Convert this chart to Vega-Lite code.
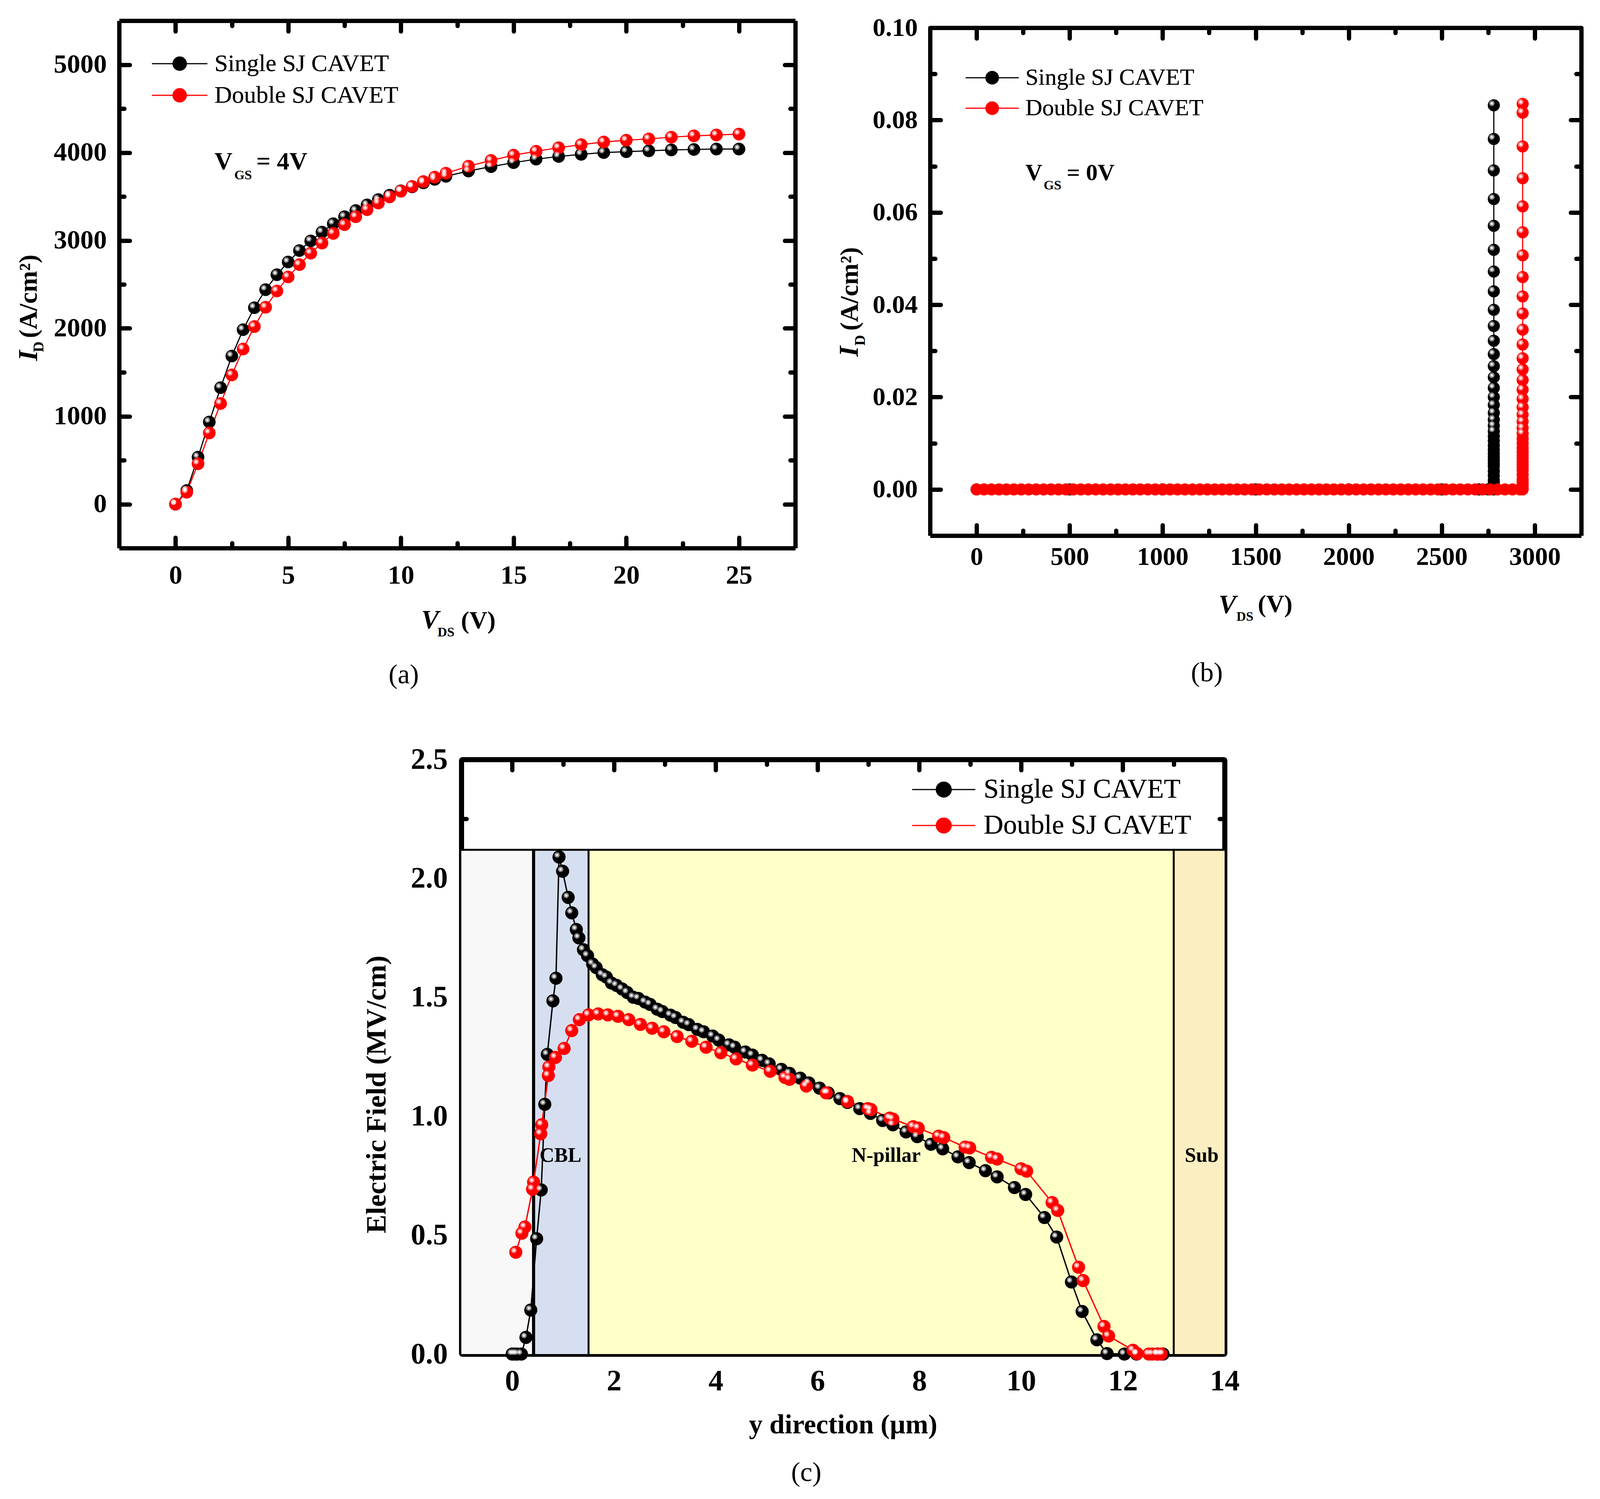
{"$schema":"https://vega.github.io/schema/vega-lite/v6.json","background":"white","padding":{"left":39,"top":38,"right":10,"bottom":10},"config":{"font":"Liberation Serif","view":{"stroke":null},"axis":{"grid":false,"domainColor":"black","domainWidth":11,"tickColor":"black","tickCap":"round","labelColor":"black","labelFontWeight":"bold","titleColor":"black","titleFontWeight":"bold","zindex":1,"labelOverlap":false,"labelFlush":false},"title":{"color":"black"},"legend":{"labelColor":"black","orient":"none","padding":0,"symbolStrokeWidth":3,"labelLimit":1000}},
"datasets":{
"a":[{"x":0,"y":0,"s":"Single"},{"x":0.5,"y":155,"s":"Single"},{"x":1,"y":535,"s":"Single"},{"x":1.5,"y":935,"s":"Single"},{"x":2,"y":1325,"s":"Single"},{"x":2.5,"y":1685,"s":"Single"},{"x":3,"y":1985,"s":"Single"},{"x":3.5,"y":2235,"s":"Single"},{"x":4,"y":2440,"s":"Single"},{"x":4.5,"y":2610,"s":"Single"},{"x":5,"y":2755,"s":"Single"},{"x":5.5,"y":2885,"s":"Single"},{"x":6,"y":2995,"s":"Single"},{"x":6.5,"y":3095,"s":"Single"},{"x":7,"y":3190,"s":"Single"},{"x":7.5,"y":3270,"s":"Single"},{"x":8,"y":3340,"s":"Single"},{"x":8.5,"y":3405,"s":"Single"},{"x":9,"y":3465,"s":"Single"},{"x":9.5,"y":3515,"s":"Single"},{"x":10,"y":3565,"s":"Single"},{"x":10.5,"y":3610,"s":"Single"},{"x":11,"y":3655,"s":"Single"},{"x":11.5,"y":3695,"s":"Single"},{"x":12,"y":3730,"s":"Single"},{"x":13,"y":3790,"s":"Single"},{"x":14,"y":3840,"s":"Single"},{"x":15,"y":3885,"s":"Single"},{"x":16,"y":3925,"s":"Single"},{"x":17,"y":3955,"s":"Single"},{"x":18,"y":3980,"s":"Single"},{"x":19,"y":4000,"s":"Single"},{"x":20,"y":4010,"s":"Single"},{"x":21,"y":4020,"s":"Single"},{"x":22,"y":4030,"s":"Single"},{"x":23,"y":4035,"s":"Single"},{"x":24,"y":4040,"s":"Single"},{"x":25,"y":4040,"s":"Single"},
{"x":0,"y":0,"s":"Double"},{"x":0.5,"y":135,"s":"Double"},{"x":1,"y":460,"s":"Double"},{"x":1.5,"y":810,"s":"Double"},{"x":2,"y":1145,"s":"Double"},{"x":2.5,"y":1470,"s":"Double"},{"x":3,"y":1765,"s":"Double"},{"x":3.5,"y":2020,"s":"Double"},{"x":4,"y":2240,"s":"Double"},{"x":4.5,"y":2425,"s":"Double"},{"x":5,"y":2585,"s":"Double"},{"x":5.5,"y":2725,"s":"Double"},{"x":6,"y":2855,"s":"Double"},{"x":6.5,"y":2970,"s":"Double"},{"x":7,"y":3080,"s":"Double"},{"x":7.5,"y":3180,"s":"Double"},{"x":8,"y":3270,"s":"Double"},{"x":8.5,"y":3350,"s":"Double"},{"x":9,"y":3425,"s":"Double"},{"x":9.5,"y":3495,"s":"Double"},{"x":10,"y":3560,"s":"Double"},{"x":10.5,"y":3615,"s":"Double"},{"x":11,"y":3670,"s":"Double"},{"x":11.5,"y":3720,"s":"Double"},{"x":12,"y":3765,"s":"Double"},{"x":13,"y":3845,"s":"Double"},{"x":14,"y":3910,"s":"Double"},{"x":15,"y":3970,"s":"Double"},{"x":16,"y":4015,"s":"Double"},{"x":17,"y":4055,"s":"Double"},{"x":18,"y":4090,"s":"Double"},{"x":19,"y":4120,"s":"Double"},{"x":20,"y":4140,"s":"Double"},{"x":21,"y":4155,"s":"Double"},{"x":22,"y":4175,"s":"Double"},{"x":23,"y":4190,"s":"Double"},{"x":24,"y":4200,"s":"Double"},{"x":25,"y":4210,"s":"Double"}],
"b":[{"x":0,"y":0,"s":"Single"},{"x":500,"y":0,"s":"Single"},{"x":1000,"y":0,"s":"Single"},{"x":1500,"y":0,"s":"Single"},{"x":2000,"y":0,"s":"Single"},{"x":2500,"y":0,"s":"Single"},{"x":2700,"y":0,"s":"Single"},{"x":2750,"y":0,"s":"Single"},
{"x":2780,"y":0,"s":"Single"},{"x":2780,"y":0.0005,"s":"Single"},{"x":2780,"y":0.001,"s":"Single"},{"x":2780,"y":0.0015,"s":"Single"},{"x":2780,"y":0.002,"s":"Single"},{"x":2780,"y":0.003,"s":"Single"},{"x":2780,"y":0.004,"s":"Single"},{"x":2780,"y":0.005,"s":"Single"},{"x":2780,"y":0.0056,"s":"Single"},{"x":2780,"y":0.0063,"s":"Single"},{"x":2780,"y":0.007,"s":"Single"},{"x":2780,"y":0.0078,"s":"Single"},{"x":2780,"y":0.0086,"s":"Single"},{"x":2780,"y":0.0095,"s":"Single"},{"x":2780,"y":0.0105,"s":"Single"},{"x":2780,"y":0.0115,"s":"Single"},{"x":2780,"y":0.0126,"s":"Single"},{"x":2780,"y":0.0138,"s":"Single"},{"x":2780,"y":0.0151,"s":"Single"},{"x":2780,"y":0.0166,"s":"Single"},{"x":2780,"y":0.0183,"s":"Single"},{"x":2780,"y":0.02,"s":"Single"},{"x":2780,"y":0.022,"s":"Single"},{"x":2780,"y":0.0243,"s":"Single"},{"x":2780,"y":0.0267,"s":"Single"},{"x":2780,"y":0.0293,"s":"Single"},{"x":2780,"y":0.0322,"s":"Single"},{"x":2780,"y":0.0354,"s":"Single"},{"x":2780,"y":0.0389,"s":"Single"},{"x":2780,"y":0.0429,"s":"Single"},{"x":2780,"y":0.0472,"s":"Single"},{"x":2780,"y":0.0519,"s":"Single"},{"x":2780,"y":0.0571,"s":"Single"},{"x":2780,"y":0.0629,"s":"Single"},{"x":2780,"y":0.0691,"s":"Single"},{"x":2780,"y":0.0759,"s":"Single"},{"x":2780,"y":0.0832,"s":"Single"},
{"x":0,"y":0,"s":"Double"},{"x":40,"y":0,"s":"Double"},{"x":80,"y":0,"s":"Double"},{"x":120,"y":0,"s":"Double"},{"x":160,"y":0,"s":"Double"},{"x":200,"y":0,"s":"Double"},{"x":240,"y":0,"s":"Double"},{"x":280,"y":0,"s":"Double"},{"x":320,"y":0,"s":"Double"},{"x":360,"y":0,"s":"Double"},{"x":400,"y":0,"s":"Double"},{"x":440,"y":0,"s":"Double"},{"x":480,"y":0,"s":"Double"},{"x":520,"y":0,"s":"Double"},{"x":560,"y":0,"s":"Double"},{"x":600,"y":0,"s":"Double"},{"x":640,"y":0,"s":"Double"},{"x":680,"y":0,"s":"Double"},{"x":720,"y":0,"s":"Double"},{"x":760,"y":0,"s":"Double"},{"x":800,"y":0,"s":"Double"},{"x":840,"y":0,"s":"Double"},{"x":880,"y":0,"s":"Double"},{"x":920,"y":0,"s":"Double"},{"x":960,"y":0,"s":"Double"},{"x":1000,"y":0,"s":"Double"},{"x":1040,"y":0,"s":"Double"},{"x":1080,"y":0,"s":"Double"},{"x":1120,"y":0,"s":"Double"},{"x":1160,"y":0,"s":"Double"},{"x":1200,"y":0,"s":"Double"},{"x":1240,"y":0,"s":"Double"},{"x":1280,"y":0,"s":"Double"},{"x":1320,"y":0,"s":"Double"},{"x":1360,"y":0,"s":"Double"},{"x":1400,"y":0,"s":"Double"},{"x":1440,"y":0,"s":"Double"},{"x":1480,"y":0,"s":"Double"},{"x":1520,"y":0,"s":"Double"},{"x":1560,"y":0,"s":"Double"},{"x":1600,"y":0,"s":"Double"},{"x":1640,"y":0,"s":"Double"},{"x":1680,"y":0,"s":"Double"},{"x":1720,"y":0,"s":"Double"},{"x":1760,"y":0,"s":"Double"},{"x":1800,"y":0,"s":"Double"},{"x":1840,"y":0,"s":"Double"},{"x":1880,"y":0,"s":"Double"},{"x":1920,"y":0,"s":"Double"},{"x":1960,"y":0,"s":"Double"},{"x":2000,"y":0,"s":"Double"},{"x":2040,"y":0,"s":"Double"},{"x":2080,"y":0,"s":"Double"},{"x":2120,"y":0,"s":"Double"},{"x":2160,"y":0,"s":"Double"},{"x":2200,"y":0,"s":"Double"},{"x":2240,"y":0,"s":"Double"},{"x":2280,"y":0,"s":"Double"},{"x":2320,"y":0,"s":"Double"},{"x":2360,"y":0,"s":"Double"},{"x":2400,"y":0,"s":"Double"},{"x":2440,"y":0,"s":"Double"},{"x":2480,"y":0,"s":"Double"},{"x":2520,"y":0,"s":"Double"},{"x":2560,"y":0,"s":"Double"},{"x":2600,"y":0,"s":"Double"},{"x":2640,"y":0,"s":"Double"},{"x":2680,"y":0,"s":"Double"},{"x":2720,"y":0,"s":"Double"},{"x":2760,"y":0,"s":"Double"},{"x":2800,"y":0,"s":"Double"},{"x":2840,"y":0,"s":"Double"},{"x":2880,"y":0,"s":"Double"},{"x":2920,"y":0,"s":"Double"},
{"x":2935,"y":0,"s":"Double"},{"x":2935,"y":0.0007,"s":"Double"},{"x":2935,"y":0.0012,"s":"Double"},{"x":2935,"y":0.0017,"s":"Double"},{"x":2935,"y":0.0022,"s":"Double"},{"x":2935,"y":0.0032,"s":"Double"},{"x":2935,"y":0.0042,"s":"Double"},{"x":2935,"y":0.0048,"s":"Double"},{"x":2935,"y":0.0054,"s":"Double"},{"x":2935,"y":0.006,"s":"Double"},{"x":2935,"y":0.0067,"s":"Double"},{"x":2935,"y":0.0074,"s":"Double"},{"x":2935,"y":0.0082,"s":"Double"},{"x":2935,"y":0.009,"s":"Double"},{"x":2935,"y":0.01,"s":"Double"},{"x":2935,"y":0.011,"s":"Double"},{"x":2935,"y":0.0121,"s":"Double"},{"x":2935,"y":0.0133,"s":"Double"},{"x":2935,"y":0.0147,"s":"Double"},{"x":2935,"y":0.0162,"s":"Double"},{"x":2935,"y":0.0178,"s":"Double"},{"x":2935,"y":0.0196,"s":"Double"},{"x":2935,"y":0.0216,"s":"Double"},{"x":2935,"y":0.0237,"s":"Double"},{"x":2935,"y":0.026,"s":"Double"},{"x":2935,"y":0.0284,"s":"Double"},{"x":2935,"y":0.0314,"s":"Double"},{"x":2935,"y":0.0346,"s":"Double"},{"x":2935,"y":0.0381,"s":"Double"},{"x":2935,"y":0.0418,"s":"Double"},{"x":2935,"y":0.046,"s":"Double"},{"x":2935,"y":0.0507,"s":"Double"},{"x":2935,"y":0.0557,"s":"Double"},{"x":2935,"y":0.0613,"s":"Double"},{"x":2935,"y":0.0674,"s":"Double"},{"x":2935,"y":0.0743,"s":"Double"},{"x":2935,"y":0.0816,"s":"Double"},{"x":2935,"y":0.0835,"s":"Double"}],
"c":[{"x":0,"y":0,"s":"Single"},{"x":0.05,"y":0,"s":"Single"},{"x":0.1,"y":0,"s":"Single"},{"x":0.18,"y":0,"s":"Single"},{"x":0.27,"y":0.07,"s":"Single"},{"x":0.365,"y":0.185,"s":"Single"},{"x":0.48,"y":0.485,"s":"Single"},{"x":0.57,"y":0.69,"s":"Single"},{"x":0.64,"y":1.05,"s":"Single"},{"x":0.69,"y":1.26,"s":"Single"},{"x":0.8,"y":1.485,"s":"Single"},{"x":0.86,"y":1.58,"s":"Single"},{"x":0.92,"y":2.09,"s":"Single"},{"x":0.99,"y":2.03,"s":"Single"},{"x":1.1,"y":1.92,"s":"Single"},{"x":1.17,"y":1.855,"s":"Single"},{"x":1.26,"y":1.785,"s":"Single"},{"x":1.31,"y":1.75,"s":"Single"},{"x":1.4,"y":1.7,"s":"Single"},{"x":1.48,"y":1.675,"s":"Single"},{"x":1.58,"y":1.64,"s":"Single"},{"x":1.65,"y":1.625,"s":"Single"},{"x":1.77,"y":1.595,"s":"Single"},{"x":1.85,"y":1.585,"s":"Single"},{"x":1.95,"y":1.56,"s":"Single"},{"x":2.05,"y":1.55,"s":"Single"},{"x":2.16,"y":1.535,"s":"Single"},{"x":2.26,"y":1.52,"s":"Single"},{"x":2.38,"y":1.5,"s":"Single"},{"x":2.48,"y":1.495,"s":"Single"},{"x":2.61,"y":1.48,"s":"Single"},{"x":2.71,"y":1.47,"s":"Single"},{"x":2.85,"y":1.45,"s":"Single"},{"x":2.95,"y":1.44,"s":"Single"},{"x":3.11,"y":1.425,"s":"Single"},{"x":3.21,"y":1.415,"s":"Single"},{"x":3.36,"y":1.395,"s":"Single"},{"x":3.47,"y":1.385,"s":"Single"},{"x":3.64,"y":1.365,"s":"Single"},{"x":3.76,"y":1.355,"s":"Single"},{"x":3.94,"y":1.337,"s":"Single"},{"x":4.06,"y":1.32,"s":"Single"},{"x":4.26,"y":1.3,"s":"Single"},{"x":4.37,"y":1.29,"s":"Single"},{"x":4.58,"y":1.27,"s":"Single"},{"x":4.72,"y":1.257,"s":"Single"},{"x":4.91,"y":1.235,"s":"Single"},{"x":5.05,"y":1.22,"s":"Single"},{"x":5.29,"y":1.197,"s":"Single"},{"x":5.45,"y":1.18,"s":"Single"},{"x":5.66,"y":1.16,"s":"Single"},{"x":5.83,"y":1.14,"s":"Single"},{"x":6.04,"y":1.118,"s":"Single"},{"x":6.21,"y":1.098,"s":"Single"},{"x":6.44,"y":1.074,"s":"Single"},{"x":6.59,"y":1.058,"s":"Single"},{"x":6.83,"y":1.032,"s":"Single"},{"x":7.04,"y":1.012,"s":"Single"},{"x":7.28,"y":0.982,"s":"Single"},{"x":7.48,"y":0.964,"s":"Single"},{"x":7.74,"y":0.934,"s":"Single"},{"x":7.96,"y":0.914,"s":"Single"},{"x":8.23,"y":0.882,"s":"Single"},{"x":8.46,"y":0.863,"s":"Single"},{"x":8.76,"y":0.829,"s":"Single"},{"x":8.98,"y":0.805,"s":"Single"},{"x":9.3,"y":0.771,"s":"Single"},{"x":9.53,"y":0.745,"s":"Single"},{"x":9.87,"y":0.7,"s":"Single"},{"x":10.09,"y":0.671,"s":"Single"},{"x":10.46,"y":0.574,"s":"Single"},{"x":10.7,"y":0.492,"s":"Single"},{"x":10.99,"y":0.303,"s":"Single"},{"x":11.2,"y":0.179,"s":"Single"},{"x":11.49,"y":0.06,"s":"Single"},{"x":11.69,"y":0.002,"s":"Single"},{"x":12.03,"y":0,"s":"Single"},{"x":12.27,"y":0,"s":"Single"},{"x":12.68,"y":0,"s":"Single"},{"x":12.79,"y":0,"s":"Single"},
{"x":0.07,"y":0.428,"s":"Double"},{"x":0.19,"y":0.508,"s":"Double"},{"x":0.25,"y":0.534,"s":"Double"},{"x":0.4,"y":0.693,"s":"Double"},{"x":0.42,"y":0.723,"s":"Double"},{"x":0.56,"y":0.926,"s":"Double"},{"x":0.58,"y":0.964,"s":"Double"},{"x":0.71,"y":1.171,"s":"Double"},{"x":0.72,"y":1.207,"s":"Double"},{"x":0.85,"y":1.247,"s":"Double"},{"x":1.02,"y":1.285,"s":"Double"},{"x":1.17,"y":1.36,"s":"Double"},{"x":1.32,"y":1.406,"s":"Double"},{"x":1.5,"y":1.426,"s":"Double"},{"x":1.69,"y":1.43,"s":"Double"},{"x":1.88,"y":1.426,"s":"Double"},{"x":2.08,"y":1.42,"s":"Double"},{"x":2.29,"y":1.406,"s":"Double"},{"x":2.52,"y":1.386,"s":"Double"},{"x":2.75,"y":1.37,"s":"Double"},{"x":2.98,"y":1.355,"s":"Double"},{"x":3.24,"y":1.335,"s":"Double"},{"x":3.53,"y":1.315,"s":"Double"},{"x":3.81,"y":1.29,"s":"Double"},{"x":4.1,"y":1.267,"s":"Double"},{"x":4.4,"y":1.241,"s":"Double"},{"x":4.72,"y":1.215,"s":"Double"},{"x":5.07,"y":1.189,"s":"Double"},{"x":5.36,"y":1.163,"s":"Double"},{"x":5.45,"y":1.155,"s":"Double"},{"x":5.78,"y":1.127,"s":"Double"},{"x":6.17,"y":1.098,"s":"Double"},{"x":6.59,"y":1.062,"s":"Double"},{"x":6.99,"y":1.032,"s":"Double"},{"x":7.05,"y":1.028,"s":"Double"},{"x":7.42,"y":0.992,"s":"Double"},{"x":7.48,"y":0.988,"s":"Double"},{"x":7.88,"y":0.956,"s":"Double"},{"x":7.98,"y":0.95,"s":"Double"},{"x":8.38,"y":0.916,"s":"Double"},{"x":8.48,"y":0.91,"s":"Double"},{"x":8.9,"y":0.87,"s":"Double"},{"x":8.99,"y":0.867,"s":"Double"},{"x":9.42,"y":0.827,"s":"Double"},{"x":9.53,"y":0.82,"s":"Double"},{"x":10,"y":0.779,"s":"Double"},{"x":10.11,"y":0.769,"s":"Double"},{"x":10.61,"y":0.637,"s":"Double"},{"x":10.72,"y":0.604,"s":"Double"},{"x":11.13,"y":0.365,"s":"Double"},{"x":11.22,"y":0.309,"s":"Double"},{"x":11.63,"y":0.116,"s":"Double"},{"x":11.72,"y":0.076,"s":"Double"},{"x":12.2,"y":0.016,"s":"Double"},{"x":12.28,"y":0.002,"s":"Double"},{"x":12.51,"y":0,"s":"Double"},{"x":12.58,"y":0,"s":"Double"},{"x":12.68,"y":0,"s":"Double"},{"x":12.75,"y":0,"s":"Double"}]},
"spacing":1891,"bounds":"flush","resolve":{"scale":{"fill":"independent","stroke":"independent","color":"independent"},"legend":{"fill":"independent","stroke":"independent"}},"vconcat":[
{"spacing":345,"bounds":"flush","resolve":{"scale":{"fill":"independent","stroke":"independent"},"legend":{"fill":"independent","stroke":"independent"}},"hconcat":[
{"width":1731,"height":1350,"title":{"text":"(a)","orient":"bottom","anchor":"middle","dx":-137,"offset":58,"fontSize":70,"fontWeight":"normal"},"resolve":{"axis":{"x":"independent","y":"independent"}},"layer":[
{"data":{"name":"a"},"mark":{"type":"line","strokeWidth":3},"encoding":{"x":{"field":"x","type":"quantitative","scale":{"domain":[-2.5,27.5],"nice":false,"zero":false},"axis":{"orient":"bottom","values":[0,5,10,15,20,25],"tickSize":-27,"tickWidth":11,"labelPadding":63,"labelFontSize":68,"format":"d","title":"(V)","titleFontSize":64,"titleX":919,"titleY":186,"titleBaseline":"middle","titleAlign":"center"}},"y":{"field":"y","type":"quantitative","scale":{"domain":[-500,5500],"nice":false,"zero":false},"axis":{"orient":"left","values":[0,1000,2000,3000,4000,5000],"tickSize":-27,"tickWidth":11,"labelPadding":59,"labelFontSize":68,"format":"d","title":"(A/cm²)","titleFontSize":66,"titleX":-232,"titleY":705,"titleAngle":270,"titleBaseline":"middle","titleAlign":"center"}},"stroke":{"field":"s","type":"nominal","title":null,"sort":["Single","Double"],"scale":{"range":["black","#ff0000"]},"legend":{"legendX":124,"legendY":79,"symbolType":"M-4.18,0L4.18,0M1,0A1,1,0,1,1,-1,0A1,1,0,1,1,1,0Z","symbolSize":1156,"labelFontSize":62,"labelOffset":58,"rowPadding":19,"labelExpr":"datum.label + ' SJ CAVET'"}}}},
{"data":{"name":"a"},"mark":{"type":"point","filled":true,"size":1050,"opacity":1,"strokeWidth":0},"encoding":{"x":{"field":"x","type":"quantitative","axis":{"orient":"bottom","values":[2.5,7.5,12.5,17.5,22.5],"tickSize":-13,"tickWidth":11,"labels":false,"domain":false,"title":null}},"y":{"field":"y","type":"quantitative","axis":{"orient":"left","values":[500,1500,2500,3500,4500],"tickSize":-13,"tickWidth":11,"labels":false,"domain":false,"title":null}},"fill":{"field":"s","type":"nominal","title":null,"sort":["Single","Double"],"scale":{"range":["black","#ff0000"]},"legend":{"legendX":124,"legendY":79,"symbolType":"M-4.18,0L4.18,0M1,0A1,1,0,1,1,-1,0A1,1,0,1,1,1,0Z","symbolSize":1156,"labelFontSize":62,"labelOffset":58,"rowPadding":19,"labelExpr":"datum.label + ' SJ CAVET'"}}}},
{"data":{"name":"a"},"mark":{"type":"point","filled":true,"size":200,"color":"white","opacity":0.5,"xOffset":-5,"yOffset":-5},"encoding":{"x":{"field":"x","type":"quantitative","axis":{"orient":"top","values":[0,5,10,15,20,25],"tickSize":-27,"tickWidth":11,"labels":false,"title":null}},"y":{"field":"y","type":"quantitative","axis":{"orient":"right","values":[0,1000,2000,3000,4000,5000],"tickSize":-27,"tickWidth":11,"labels":false,"title":null}}}},
{"data":{"name":"a"},"mark":{"type":"point","filled":true,"size":50,"color":"white","opacity":0.8,"xOffset":-5,"yOffset":-5},"encoding":{"x":{"field":"x","type":"quantitative","axis":null},"y":{"field":"y","type":"quantitative","axis":null}}},
{"data":{"values":[{"x":2.13,"y":3893,"t":"V"},{"x":4.72,"y":3893,"t":"= 4V"}]},"mark":{"type":"text","fontWeight":"bold","fontSize":64,"color":"black"},"encoding":{"text":{"field":"t"},"x":{"field":"x","type":"quantitative","axis":{"orient":"top","values":[2.5,7.5,12.5,17.5,22.5],"tickSize":-13,"tickWidth":11,"labels":false,"domain":false,"title":null}},"y":{"field":"y","type":"quantitative","axis":{"orient":"right","values":[500,1500,2500,3500,4500],"tickSize":-13,"tickWidth":11,"labels":false,"domain":false,"title":null}}}},
{"data":{"values":[{"x":3.0,"y":3740,"t":"GS"},{"x":12.0,"y":-1459,"t":"DS"}]},"mark":{"type":"text","fontWeight":"bold","fontSize":34,"color":"black"},"encoding":{"text":{"field":"t"},"x":{"field":"x","type":"quantitative","axis":null},"y":{"field":"y","type":"quantitative","axis":null}}},
{"data":{"values":[{"x":11.3,"y":-1321,"t":"V"}]},"mark":{"type":"text","fontWeight":"bold","fontStyle":"italic","fontSize":68,"color":"black"},"encoding":{"text":{"field":"t"},"x":{"field":"x","type":"quantitative","axis":null},"y":{"field":"y","type":"quantitative","axis":null}}},
{"data":{"values":[{"x":-6.5,"y":1691,"t":"I"}]},"mark":{"type":"text","fontWeight":"bold","fontStyle":"italic","fontSize":70,"angle":270,"color":"black"},"encoding":{"text":{"field":"t"},"x":{"field":"x","type":"quantitative","axis":null},"y":{"field":"y","type":"quantitative","axis":null}}},
{"data":{"values":[{"x":-6.05,"y":1790,"t":"D"}]},"mark":{"type":"text","fontWeight":"bold","fontSize":38,"angle":270,"color":"black"},"encoding":{"text":{"field":"t"},"x":{"field":"x","type":"quantitative","axis":null},"y":{"field":"y","type":"quantitative","axis":null}}}
]},
{"spacing":17,"bounds":"flush","resolve":{"scale":{"fill":"independent","stroke":"independent"},"legend":{"fill":"independent","stroke":"independent"}},"vconcat":[
{"width":1,"height":1,"data":{"values":[]},"mark":"point","encoding":{}},
{"width":1667,"height":1300,"title":{"text":"(b)","orient":"bottom","anchor":"middle","dx":-125,"offset":93,"fontSize":70,"fontWeight":"normal"},"resolve":{"axis":{"x":"independent","y":"independent"}},"layer":[
{"data":{"name":"b"},"mark":{"type":"line","strokeWidth":3},"encoding":{"x":{"field":"x","type":"quantitative","scale":{"domain":[-250,3250],"nice":false,"zero":false},"axis":{"orient":"bottom","values":[0,500,1000,1500,2000,2500,3000],"tickSize":-27,"tickWidth":11,"labelPadding":49,"labelFontSize":66,"format":"d","title":"(V)","titleFontSize":64,"titleX":883,"titleY":176,"titleBaseline":"middle","titleAlign":"center"}},"y":{"field":"y","type":"quantitative","scale":{"domain":[-0.01,0.1],"nice":false,"zero":false},"axis":{"orient":"left","values":[0,0.02,0.04,0.06,0.08,0.1],"tickSize":-27,"tickWidth":11,"labelPadding":59,"labelFontSize":66,"format":".2f","title":"(A/cm²)","titleFontSize":66,"titleX":-206,"titleY":668,"titleAngle":270,"titleBaseline":"middle","titleAlign":"center"}},"stroke":{"field":"s","type":"nominal","title":null,"sort":["Single","Double"],"scale":{"range":["black","#ff0000"]},"legend":{"legendX":129,"legendY":98,"symbolType":"M-4.26,0L4.26,0M1,0A1,1,0,1,1,-1,0A1,1,0,1,1,1,0Z","symbolSize":1024,"labelFontSize":60,"labelOffset":55,"rowPadding":18,"labelExpr":"datum.label + ' SJ CAVET'"}}}},
{"data":{"name":"b"},"mark":{"type":"point","filled":true,"size":960,"opacity":1,"strokeWidth":0},"encoding":{"x":{"field":"x","type":"quantitative","axis":{"orient":"bottom","values":[250,750,1250,1750,2250,2750],"tickSize":-13,"tickWidth":11,"labels":false,"domain":false,"title":null}},"y":{"field":"y","type":"quantitative","axis":{"orient":"left","values":[0.01,0.03,0.05,0.07,0.09],"tickSize":-13,"tickWidth":11,"labels":false,"domain":false,"title":null}},"fill":{"field":"s","type":"nominal","title":null,"sort":["Single","Double"],"scale":{"range":["black","#ff0000"]},"legend":{"legendX":129,"legendY":98,"symbolType":"M-4.26,0L4.26,0M1,0A1,1,0,1,1,-1,0A1,1,0,1,1,1,0Z","symbolSize":1024,"labelFontSize":60,"labelOffset":55,"rowPadding":18,"labelExpr":"datum.label + ' SJ CAVET'"}}}},
{"data":{"name":"b"},"transform":[{"filter":"datum.y >= 0.012"}],"mark":{"type":"point","filled":true,"size":200,"color":"white","opacity":0.5,"xOffset":-5,"yOffset":-5},"encoding":{"x":{"field":"x","type":"quantitative","axis":{"orient":"top","values":[0,500,1000,1500,2000,2500,3000],"tickSize":-27,"tickWidth":11,"labels":false,"title":null}},"y":{"field":"y","type":"quantitative","axis":{"orient":"right","values":[0,0.02,0.04,0.06,0.08,0.1],"tickSize":-27,"tickWidth":11,"labels":false,"title":null}}}},
{"data":{"name":"b"},"transform":[{"filter":"datum.y >= 0.012"}],"mark":{"type":"point","filled":true,"size":50,"color":"white","opacity":0.8,"xOffset":-5,"yOffset":-5},"encoding":{"x":{"field":"x","type":"quantitative","axis":null},"y":{"field":"y","type":"quantitative","axis":null}}},
{"data":{"values":[{"x":308,"y":0.0685,"t":"V"},{"x":613,"y":0.0685,"t":"= 0V"}]},"mark":{"type":"text","fontWeight":"bold","fontSize":60,"color":"black"},"encoding":{"text":{"field":"t"},"x":{"field":"x","type":"quantitative","axis":{"orient":"top","values":[250,750,1250,1750,2250,2750],"tickSize":-13,"tickWidth":11,"labels":false,"domain":false,"title":null}},"y":{"field":"y","type":"quantitative","axis":{"orient":"right","values":[0.01,0.03,0.05,0.07,0.09],"tickSize":-13,"tickWidth":11,"labels":false,"domain":false,"title":null}}}},
{"data":{"values":[{"x":408,"y":0.0658,"t":"GS"},{"x":1442,"y":-0.0276,"t":"DS"}]},"mark":{"type":"text","fontWeight":"bold","fontSize":34,"color":"black"},"encoding":{"text":{"field":"t"},"x":{"field":"x","type":"quantitative","axis":null},"y":{"field":"y","type":"quantitative","axis":null}}},
{"data":{"values":[{"x":1348,"y":-0.0251,"t":"V"}]},"mark":{"type":"text","fontWeight":"bold","fontStyle":"italic","fontSize":68,"color":"black"},"encoding":{"text":{"field":"t"},"x":{"field":"x","type":"quantitative","axis":null},"y":{"field":"y","type":"quantitative","axis":null}}},
{"data":{"values":[{"x":-683,"y":0.0299,"t":"I"}]},"mark":{"type":"text","fontWeight":"bold","fontStyle":"italic","fontSize":70,"angle":270,"color":"black"},"encoding":{"text":{"field":"t"},"x":{"field":"x","type":"quantitative","axis":null},"y":{"field":"y","type":"quantitative","axis":null}}},
{"data":{"values":[{"x":-624,"y":0.0323,"t":"D"}]},"mark":{"type":"text","fontWeight":"bold","fontSize":38,"angle":270,"color":"black"},"encoding":{"text":{"field":"t"},"x":{"field":"x","type":"quantitative","axis":null},"y":{"field":"y","type":"quantitative","axis":null}}}
]}]}]},
{"spacing":875,"bounds":"flush","resolve":{"scale":{"fill":"independent","stroke":"independent"},"legend":{"fill":"independent","stroke":"independent"}},"hconcat":[
{"width":1,"height":1,"data":{"values":[]},"mark":"point","encoding":{}},
{"width":1954,"height":1522,"title":{"text":"(c)","orient":"bottom","anchor":"middle","dx":-94,"offset":54,"fontSize":70,"fontWeight":"normal"},"resolve":{"axis":{"x":"independent","y":"independent"}},"layer":[
{"data":{"values":[{"x":-1,"x2":0.42,"y":0,"y2":2.12,"r":"Gate"},{"x":0.42,"x2":1.5,"y":0,"y2":2.12,"r":"CBL"},{"x":1.5,"x2":13,"y":0,"y2":2.12,"r":"N-pillar"},{"x":13,"x2":14,"y":0,"y2":2.12,"r":"Sub"}]},"mark":{"type":"rect"},"encoding":{"x":{"field":"x","type":"quantitative","scale":{"domain":[-1,14],"nice":false,"zero":false},"axis":{"orient":"bottom","values":[1,3,5,7,9,11,13],"tickSize":-13,"tickWidth":11,"labels":false,"domain":false,"title":null}},"x2":{"field":"x2"},"y":{"field":"y","type":"quantitative","scale":{"domain":[0,2.5],"nice":false,"zero":false},"axis":{"orient":"left","values":[0.25,0.75,1.25,1.75,2.25],"tickSize":-13,"tickWidth":11,"labels":false,"domain":false,"title":null}},"y2":{"field":"y2"},"color":{"field":"r","type":"nominal","scale":{"domain":["Gate","CBL","N-pillar","Sub"],"range":["#f8f8f8","#d5dff0","#ffffc8","#fbeec0"]},"legend":null}}},
{"data":{"values":[{"x":1.5,"y":0,"y2":2.12},{"x":13,"y":0,"y2":2.12}]},"mark":{"type":"rule","color":"black","strokeWidth":5},"encoding":{"x":{"field":"x","type":"quantitative","axis":{"orient":"top","values":[1,3,5,7,9,11,13],"tickSize":-13,"tickWidth":11,"labels":false,"domain":false,"title":null}},"y":{"field":"y","type":"quantitative","axis":{"orient":"right","values":[0.25,0.75,1.25,1.75,2.25],"tickSize":-13,"tickWidth":11,"labels":false,"domain":false,"title":null}},"y2":{"field":"y2"}}},
{"data":{"values":[{"x":0.42,"y":0,"y2":2.12}]},"mark":{"type":"rule","color":"black","strokeWidth":8},"encoding":{"x":{"field":"x","type":"quantitative","axis":null},"y":{"field":"y","type":"quantitative","axis":null},"y2":{"field":"y2"}}},
{"data":{"values":[{"x":-1,"x2":14,"y":2.12}]},"mark":{"type":"rule","color":"black","strokeWidth":5},"encoding":{"x":{"field":"x","type":"quantitative","axis":null},"x2":{"field":"x2"},"y":{"field":"y","type":"quantitative","axis":null}}},
{"data":{"name":"c"},"mark":{"type":"line","strokeWidth":3.5},"encoding":{"x":{"field":"x","type":"quantitative","axis":{"orient":"bottom","values":[0,2,4,6,8,10,12,14],"tickSize":-27,"tickWidth":11,"domainWidth":13,"labelPadding":59,"labelFontSize":76,"format":"d","title":"y direction (µm)","titleFontSize":70,"titleX":977,"titleY":181,"titleBaseline":"middle","titleAlign":"center"}},"y":{"field":"y","type":"quantitative","axis":{"orient":"left","values":[0,0.5,1,1.5,2,2.5],"tickSize":-27,"tickWidth":11,"domainWidth":13,"labelPadding":62,"labelFontSize":76,"format":".1f","title":"Electric Field (MV/cm)","titleFontSize":72,"titleX":-217,"titleY":857,"titleAngle":270,"titleBaseline":"middle","titleAlign":"center"}},"stroke":{"field":"s","type":"nominal","title":null,"sort":["Single","Double"],"scale":{"range":["black","#ff0000"]},"legend":{"legendX":1200,"legendY":42,"symbolType":"M-4.26,0L4.26,0M1,0A1,1,0,1,1,-1,0A1,1,0,1,1,1,0Z","symbolSize":1444,"labelFontSize":70,"labelOffset":67,"rowPadding":22,"labelExpr":"datum.label + ' SJ CAVET'"}}}},
{"data":{"name":"c"},"mark":{"type":"point","filled":true,"size":1130,"opacity":1,"strokeWidth":0},"encoding":{"x":{"field":"x","type":"quantitative","axis":{"orient":"top","values":[0,2,4,6,8,10,12,14],"tickSize":-27,"tickWidth":11,"domainWidth":13,"labels":false,"title":null}},"y":{"field":"y","type":"quantitative","axis":{"orient":"right","values":[0,0.5,1,1.5,2,2.5],"tickSize":-27,"tickWidth":11,"domainWidth":13,"labels":false,"title":null}},"fill":{"field":"s","type":"nominal","title":null,"sort":["Single","Double"],"scale":{"range":["black","#ff0000"]},"legend":{"legendX":1200,"legendY":42,"symbolType":"M-4.26,0L4.26,0M1,0A1,1,0,1,1,-1,0A1,1,0,1,1,1,0Z","symbolSize":1444,"labelFontSize":70,"labelOffset":67,"rowPadding":22,"labelExpr":"datum.label + ' SJ CAVET'"}}}},
{"data":{"name":"c"},"mark":{"type":"point","filled":true,"size":200,"color":"white","opacity":0.5,"xOffset":-5,"yOffset":-5},"encoding":{"x":{"field":"x","type":"quantitative","axis":null},"y":{"field":"y","type":"quantitative","axis":null}}},
{"data":{"name":"c"},"mark":{"type":"point","filled":true,"size":50,"color":"white","opacity":0.8,"xOffset":-5,"yOffset":-5},"encoding":{"x":{"field":"x","type":"quantitative","axis":null},"y":{"field":"y","type":"quantitative","axis":null}}},
{"data":{"values":[{"x":0.95,"y":0.835,"t":"CBL"},{"x":7.35,"y":0.835,"t":"N-pillar"},{"x":13.55,"y":0.835,"t":"Sub"}]},"mark":{"type":"text","fontWeight":"bold","fontSize":52,"color":"black"},"encoding":{"text":{"field":"t"},"x":{"field":"x","type":"quantitative","axis":null},"y":{"field":"y","type":"quantitative","axis":null}}}
]}]}]}
